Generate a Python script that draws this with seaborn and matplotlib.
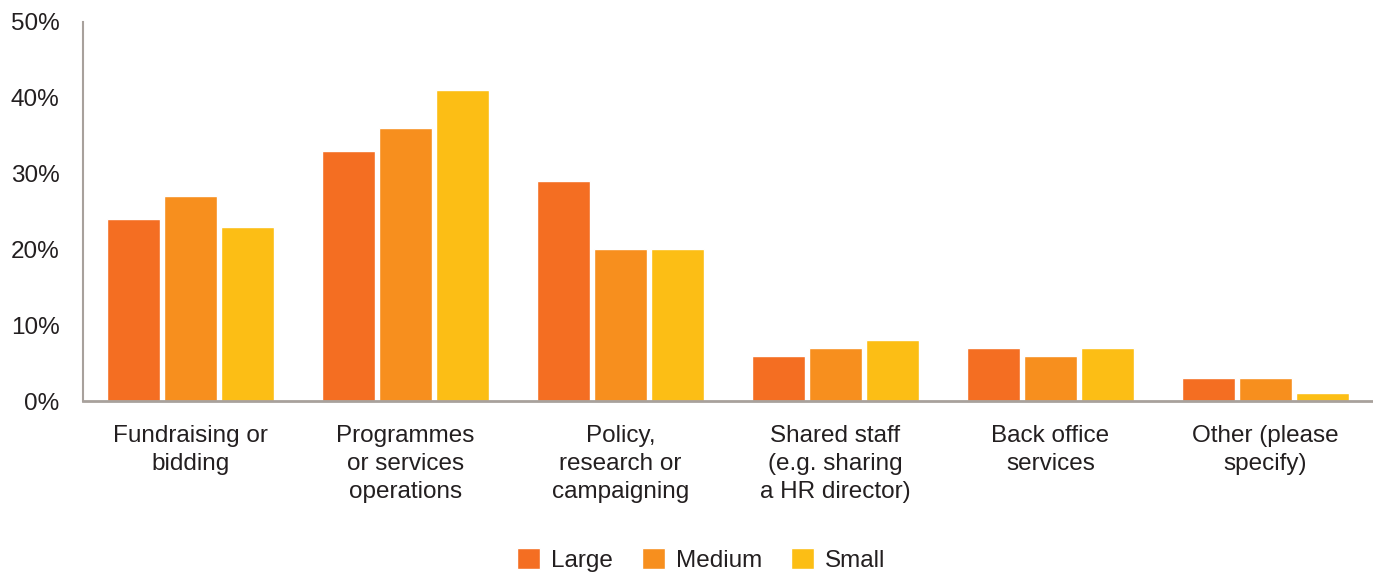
import pandas as pd
import matplotlib
matplotlib.use("Agg")
import matplotlib.pyplot as plt
import seaborn as sns
from matplotlib.ticker import FuncFormatter

# data
categories = ["Fundraising or\nbidding", "Programmes\nor services\noperations",
              "Policy,\nresearch or\ncampaigning", "Shared staff\n(e.g. sharing\na HR director)",
              "Back office\nservices", "Other (please\nspecify)"]
sizes = ["Large", "Medium", "Small"]
large = [24, 33, 29, 6, 7, 3]
medium = [27, 36, 20, 7, 6, 3]
small = [23, 41, 20, 8, 7, 1]
yticks = [0, 10, 20, 30, 40, 50]
colors = ["#F46E22", "#F78F1E", "#FCBE15"]

rows = []
for cat, l, m, s in zip(categories, large, medium, small):
    rows.append((cat, "Large", l))
    rows.append((cat, "Medium", m))
    rows.append((cat, "Small", s))
df = pd.DataFrame(rows, columns=["category", "size", "value"])

sns.set_style("white")
plt.rcParams['font.family'] = ['Liberation Sans', 'DejaVu Sans']

fig = plt.figure(figsize=(13.73, 5.73), dpi=100)
ax = fig.add_axes([83/1373, 1-401/573, 1-83/1373, (401-22)/573])

sns.barplot(data=df, x="category", y="value", hue="size", hue_order=sizes,
            palette=colors, width=0.8, gap=0.08, saturation=1, ax=ax, legend=True)

ax.set_xlim(-0.5, 5.5)
ax.set_ylim(0, 50)
ax.set_yticks(yticks)
ax.yaxis.set_major_formatter(FuncFormatter(lambda v, p: f"{int(v)}%"))
ax.set_xlabel("")
ax.set_ylabel("")
ax.tick_params(axis="both", length=0, labelsize=17.5, colors="#231F20")
ax.tick_params(axis="y", pad=17)
ax.tick_params(axis="x", pad=17)
for lab in ax.get_xticklabels():
    lab.set_linespacing(1.35)
for side in ["top", "right"]:
    ax.spines[side].set_visible(False)
ax.spines["left"].set_color("#A8A19C")
ax.spines["bottom"].set_color("#A8A19C")
ax.spines["left"].set_linewidth(1.5)
ax.spines["bottom"].set_linewidth(2)

leg = ax.legend(loc="center", bbox_to_anchor=(701/1373, 1-560/573), bbox_transform=fig.transFigure,
                ncol=3, frameon=False, fontsize=17.5, handlelength=0.95, handleheight=0.95,
                columnspacing=1.2, handletextpad=0.45)
for t in leg.get_texts():
    t.set_color("#231F20")

fig.savefig("out.png", dpi=100)
